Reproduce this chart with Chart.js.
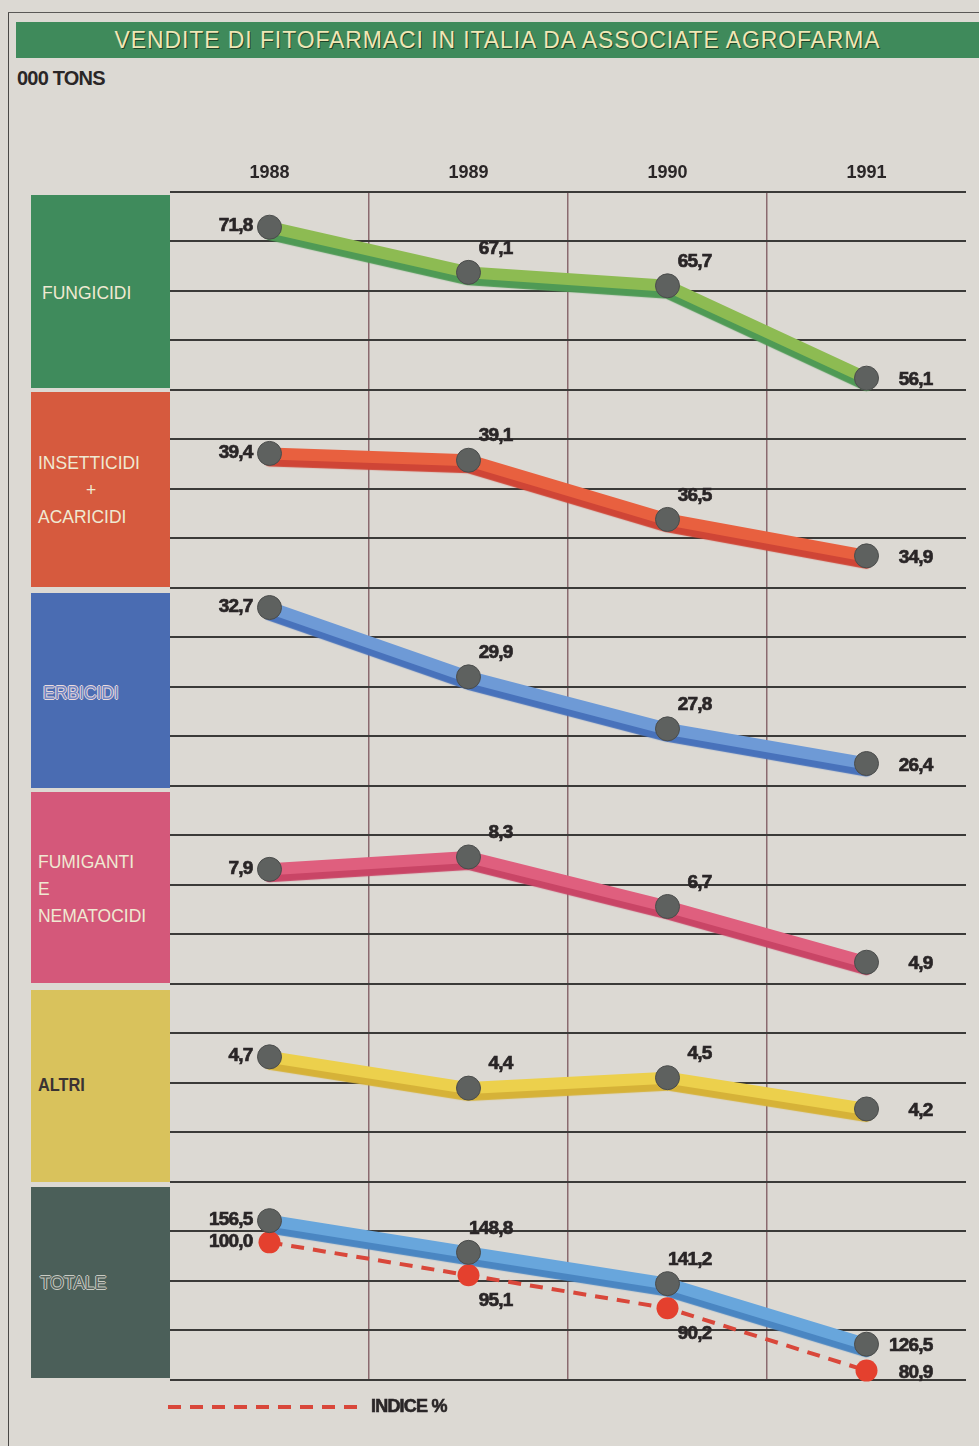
<!DOCTYPE html>
<html>
<head>
<meta charset="utf-8">
<title>Vendite di fitofarmaci in Italia</title>
<script src="https://cdn.jsdelivr.net/npm/chart.js@4/dist/chart.umd.min.js"></script>
<style>
  html, body { margin: 0; padding: 0; background: #dcd9d3; }
  #page { position: relative; width: 979px; height: 1446px; overflow: hidden; background: #dcd9d3; }
  #chart { position: absolute; left: 0; top: 0; }
  .rule-left { position: absolute; left: 8px; top: 12px; width: 1px; height: 1434px; background: #4a4846; }
  .rule-top { position: absolute; left: 8px; top: 12px; width: 971px; height: 1px; background: #5a5856; }
  #title {
    position: absolute; left: 16px; top: 22px; width: 963px; height: 36px;
    background: #3f8a5b; display: flex; align-items: center; justify-content: center;
  }
  #title span {
    display: inline-block; white-space: nowrap;
    font: 24px "Liberation Sans", Arial, sans-serif; letter-spacing: 1px;
    color: #f0e7b6; text-shadow: 1px 1px 0 rgba(25, 55, 30, 0.85);
    transform-origin: center center;
  }
  #unit {
    position: absolute; left: 17px; top: 78px; transform: translateY(-50%);
    font: bold 20px "Liberation Sans", Arial, sans-serif; letter-spacing: -0.8px;
    color: #2a2627; white-space: nowrap; line-height: 1;
  }
  .block { position: absolute; left: 31px; width: 139px; }
  .tag {
    position: absolute; white-space: nowrap; line-height: 1;
    font: 19px "Liberation Sans", Arial, sans-serif; color: #efe9d2;
    transform: translateY(-50%) scaleX(0.92); transform-origin: left center;
  }
  .tag.dark { color: #3a3233; font-weight: bold; transform: translateY(-50%) scaleX(0.86); }
  .tag.hollow-blue { color: #7186c4; text-shadow: -1px 0 0 #ecdcdc, 1px 0 0 #ecdcdc, 0 -1px 0 #ecdcdc, 0 1px 0 #ecdcdc; }
  .tag.hollow-grey { color: #56645e; text-shadow: -1px 0 0 #c9cbc3, 1px 0 0 #c9cbc3, 0 -1px 0 #c9cbc3, 0 1px 0 #c9cbc3; }
</style>
</head>
<body>
<div id="page">
  <div class="rule-left"></div>
  <div class="rule-top"></div>
  <div id="title"><span>VENDITE DI FITOFARMACI IN ITALIA DA ASSOCIATE AGROFARMA</span></div>
  <div id="unit">000 TONS</div>

  <div class="block" style="top:195px;height:193px;background:#3f8b5c"></div>
  <div class="block" style="top:392px;height:195px;background:#d65a3e"></div>
  <div class="block" style="top:593px;height:195px;background:#4a6cb2"></div>
  <div class="block" style="top:792px;height:191px;background:#d4587a"></div>
  <div class="block" style="top:990px;height:192px;background:#d9c25c"></div>
  <div class="block" style="top:1187px;height:191px;background:#4b5f59"></div>

  <div class="tag" style="left:42px;top:293px">FUNGICIDI</div>
  <div class="tag" style="left:38px;top:463px">INSETTICIDI</div>
  <div class="tag" style="left:86px;top:490px">+</div>
  <div class="tag" style="left:38px;top:517px">ACARICIDI</div>
  <div class="tag hollow-blue" style="left:43px;top:693px">ERBICIDI</div>
  <div class="tag" style="left:38px;top:862px">FUMIGANTI</div>
  <div class="tag" style="left:38px;top:889px">E</div>
  <div class="tag" style="left:38px;top:916px">NEMATOCIDI</div>
  <div class="tag dark" style="left:38px;top:1085px">ALTRI</div>
  <div class="tag hollow-grey" style="left:40px;top:1283px">TOTALE</div>

  <canvas id="chart" width="979" height="1446"></canvas>
</div>

<script>
// Sales in thousand tonnes, 1988-1991
const years = ['1988', '1989', '1990', '1991'];
const fungicidi   = [71.8, 67.1, 65.7, 56.1];
const insetticidi = [39.4, 39.1, 36.5, 34.9];
const erbicidi    = [32.7, 29.9, 27.8, 26.4];
const fumiganti   = [7.9, 8.3, 6.7, 4.9];
const altri       = [4.7, 4.4, 4.5, 4.2];
const totale      = [156.5, 148.8, 141.2, 126.5];
// Index of the total, 1988 = 100
const indice      = [100.0, 95.1, 90.2, 80.9];

// Value window (bottom, top) of each panel
const rangeFungicidi   = [54.9, 75.5];
const rangeInsetticidi = [33.5, 42.2];
const rangeErbicidi    = [25.5, 33.5];
const rangeFumiganti   = [4.2, 10.6];
const rangeAltri       = [3.5, 5.4];
const rangeTotale      = [117.8, 165.9];
const rangeIndice      = [79.5, 109.0];

// Fit the title to the width of the banner
(function () {
  const span = document.querySelector('#title span');
  const w = span.getBoundingClientRect().width;
  span.style.transform = 'scaleX(' + (766 / w) + ')';
})();

const LABEL_FONT = '"Liberation Sans", Arial, sans-serif';
const INK = '#2a2627';

const panels = [
  { id: 'yFung', values: fungicidi,   range: rangeFungicidi,   light: '#8dbb52', dark: '#4f9a55' },
  { id: 'yIns',  values: insetticidi, range: rangeInsetticidi, light: '#e8603f', dark: '#cf4536' },
  { id: 'yErb',  values: erbicidi,    range: rangeErbicidi,    light: '#6e9ad6', dark: '#4872bb' },
  { id: 'yFum',  values: fumiganti,   range: rangeFumiganti,   light: '#df5f7e', dark: '#c94566' },
  { id: 'yAlt',  values: altri,       range: rangeAltri,       light: '#ecd04c', dark: '#d6b238' },
  { id: 'yTot',  values: totale,      range: rangeTotale,      light: '#68a6dc', dark: '#4a86c2' }
];

const scales = {
  x: {
    type: 'category',
    labels: years,
    position: 'top',
    offset: true,
    grid: {
      offset: true,
      drawTicks: false,
      lineWidth: 1.5,
      color: c => (c.index > 0 && c.index < years.length) ? 'rgba(118,78,86,0.8)' : 'rgba(0,0,0,0)'
    },
    border: { display: false },
    ticks: { color: INK, padding: 8, font: { family: LABEL_FONT, size: 18, weight: 'bold' } }
  }
};

panels.forEach((p, i) => {
  scales[p.id] = {
    type: 'linear',
    position: 'left',
    stack: 'panels',
    stackWeight: 1,
    weight: panels.length - i,
    min: p.range[0],
    max: p.range[1],
    afterBuildTicks: axis => {
      const step = (p.range[1] - p.range[0]) / 4;
      axis.ticks = [0, 1, 2, 3, 4].map(k => ({ value: p.range[0] + k * step }));
    },
    grid: { drawTicks: false, color: '#3b3a38', lineWidth: 2 },
    border: { display: false },
    ticks: { display: false }
  };
});

// The index shares the bottom panel, on its own scale
scales.yIdx = {
  type: 'linear',
  position: 'right',
  display: false,
  min: rangeIndice[0],
  max: rangeIndice[0] + panels.length * (rangeIndice[1] - rangeIndice[0])
};

const datasets = [];
panels.forEach(p => {
  // thick tube
  datasets.push({
    data: p.values, yAxisID: p.id, order: 2, clip: false,
    borderColor: p.light, shade: p.dark, borderWidth: 12,
    borderCapStyle: 'round', borderJoinStyle: 'round',
    pointRadius: 0, tension: 0
  });
  // knobs with value labels
  datasets.push({
    data: p.values, yAxisID: p.id, order: 0, clip: false,
    showLine: false, pointRadius: 12,
    pointBackgroundColor: '#5e615f', pointBorderColor: '#4a4c4b', pointBorderWidth: 1,
    labelAt: ['left', 'above', 'above', 'right']
  });
});
datasets.push({
  label: 'INDICE %',
  data: indice, yAxisID: 'yIdx', order: 1, clip: false,
  borderColor: '#d9473a', borderWidth: 4, borderDash: [13, 9],
  pointRadius: 11, pointBackgroundColor: '#e4402e', pointBorderWidth: 0,
  labelAt: ['left', 'below', 'below', 'right'],
  legendLine: true
});

// Lower shading band under each tube
const tubeShade = {
  id: 'tubeShade',
  beforeDatasetDraw(chart, args) {
    const ds = chart.data.datasets[args.index];
    if (!ds.shade) return;
    const ctx = chart.ctx;
    ctx.save();
    ctx.shadowColor = ds.shade;
    ctx.shadowOffsetX = 0;
    ctx.shadowOffsetY = 7;
    ctx.shadowBlur = 1;
  },
  afterDatasetDraw(chart, args) {
    const ds = chart.data.datasets[args.index];
    if (ds.shade) chart.ctx.restore();
  }
};

// Value labels beside the knobs
const valueLabels = {
  id: 'valueLabels',
  afterDatasetsDraw(chart) {
    const ctx = chart.ctx;
    ctx.save();
    ctx.font = 'bold 19px ' + LABEL_FONT;
    ctx.fillStyle = INK;
    ctx.strokeStyle = INK;
    ctx.lineWidth = 0.7;
    ctx.textBaseline = 'middle';
    ctx.textAlign = 'right';
    if ('letterSpacing' in ctx) ctx.letterSpacing = '-0.8px';
    chart.data.datasets.forEach((ds, i) => {
      if (!ds.labelAt) return;
      chart.getDatasetMeta(i).data.forEach((pt, j) => {
        const txt = ds.data[j].toFixed(1).replace('.', ',');
        let x = pt.x, y = pt.y;
        switch (ds.labelAt[j]) {
          case 'left':  x -= 17; y -= 1; break;
          case 'above': x += 44; y -= 24; break;
          case 'below': x += 44; y += 26; break;
          default:      x += 66; y += 2;
        }
        ctx.fillText(txt, x, y);
        ctx.strokeText(txt, x, y);
      });
    });
    ctx.restore();
  }
};

// Key for the dashed index line
const indexKey = {
  id: 'indexKey',
  afterDraw(chart) {
    const ctx = chart.ctx;
    const area = chart.chartArea;
    chart.data.datasets.forEach(ds => {
      if (!ds.legendLine) return;
      const y = area.bottom + 27;
      ctx.save();
      ctx.strokeStyle = ds.borderColor;
      ctx.lineWidth = ds.borderWidth;
      ctx.setLineDash(ds.borderDash);
      ctx.beginPath();
      ctx.moveTo(area.left - 2, y);
      ctx.lineTo(area.left + 192, y);
      ctx.stroke();
      ctx.setLineDash([]);
      ctx.font = 'bold 18px ' + LABEL_FONT;
      if ('letterSpacing' in ctx) ctx.letterSpacing = '-0.8px';
      ctx.fillStyle = INK;
      ctx.strokeStyle = INK;
      ctx.lineWidth = 0.6;
      ctx.textBaseline = 'middle';
      ctx.textAlign = 'left';
      ctx.fillText(ds.label, area.left + 201, y);
      ctx.strokeText(ds.label, area.left + 201, y);
      ctx.restore();
    });
  }
};

new Chart(document.getElementById('chart'), {
  type: 'line',
  data: { labels: years, datasets },
  options: {
    responsive: false,
    animation: false,
    devicePixelRatio: 1,
    layout: { padding: { top: 154, bottom: 66, left: 170, right: 12 } },
    scales,
    plugins: { legend: { display: false }, tooltip: { enabled: false } }
  },
  plugins: [tubeShade, valueLabels, indexKey]
});
</script>
</body>
</html>
